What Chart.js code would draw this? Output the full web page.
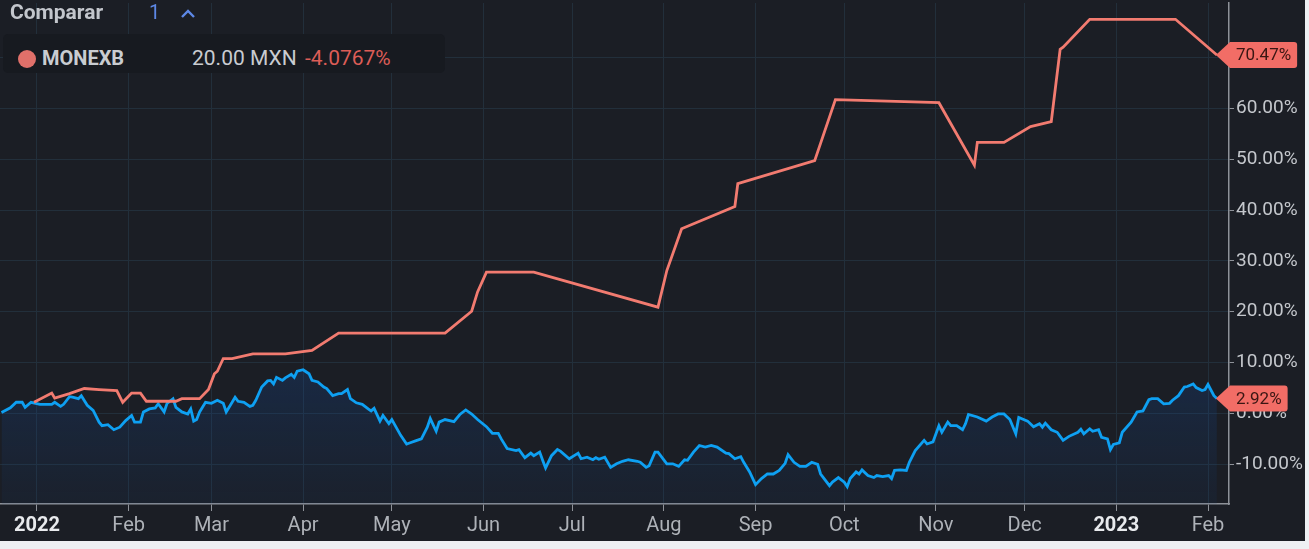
<!DOCTYPE html>
<html>
<head>
<meta charset="utf-8">
<script src="https://cdn.jsdelivr.net/npm/chart.js@4/dist/chart.umd.min.js"></script>
<style>
  html, body { margin: 0; padding: 0; background: #eef0f3; }
  #wrap { position: absolute; left: 0; top: 0; width: 1305px; height: 541px; background: #1b1e25; overflow: hidden; }
  #wrap canvas { position: absolute; left: 0; top: 0; }
  .t { position: absolute; font-family: Roboto, sans-serif; white-space: nowrap; line-height: 24px; }
  #row { position: absolute; left: 3px; top: 34px; width: 442px; height: 39px; background: #171a20; border-radius: 5px; }
  #dot { position: absolute; left: 18px; top: 50px; width: 18px; height: 18px; border-radius: 50%; background: #e0706a; }
</style>
</head>
<body>
<div id="wrap">
  <canvas id="chart"></canvas>
  <div class="t" style="left:10px;top:0px;font-size:21px;font-weight:700;color:#c3c6cc;">Comparar</div>
  <div class="t" style="left:149px;top:0px;font-size:20px;color:#5d88e6;">1</div>
  <svg style="position:absolute;left:180px;top:7px" width="16" height="12"><polyline points="2,10 8,4 14,10" fill="none" stroke="#5d88e6" stroke-width="2.4"/></svg>
  <div id="row"></div>
  <div id="dot"></div>
  <div class="t" style="left:42px;top:46px;font-size:20px;font-weight:700;color:#c9ccd1;">MONEXB</div>
  <div class="t" style="left:192px;top:46px;font-size:21px;color:#c9ccd1;">20.00 MXN</div>
  <div class="t" style="left:305px;top:46px;font-size:21px;color:#dc5d57;">-4.0767%</div>
</div>
<script>
// x values are days counted from 2022-01-01
const monthTicks = [0, 31, 59, 90, 120, 151, 181, 212, 243, 273, 304, 334, 365, 396];
const monthLabels = ['2022', 'Feb', 'Mar', 'Apr', 'May', 'Jun', 'Jul', 'Aug', 'Sep', 'Oct', 'Nov', 'Dec', '2023', 'Feb'];
const yTicks = [-10, 0, 10, 20, 30, 40, 50, 60, 70];

// main series (blue area), % change
const benchDays = [
  -12, -9, -7, -5, -4, -2, 1, 5, 6, 8,
  9, 11, 12, 14, 15, 17, 19, 21, 22, 24,
  26, 28, 30, 32, 33, 35, 36, 38, 40, 41,
  43, 44, 46, 47, 49, 51, 52, 53, 54, 55,
  57, 59, 61, 63, 64, 66, 67, 68, 70, 72,
  73, 74, 76, 78, 79, 80, 81, 83, 84, 86,
  87, 88, 90, 92, 93, 95, 97, 98, 100, 102,
  103, 105, 106, 108, 110, 112, 113, 114, 116, 117,
  119, 120, 123, 125, 126, 128, 130, 132, 133, 135,
  136, 138, 141, 143, 145, 147, 149, 152, 154, 156,
  157, 159, 162, 163, 165, 167, 168, 170, 171, 172,
  174, 176, 177, 180, 183, 184, 186, 188, 189, 190,
  192, 194, 196, 198, 200, 203, 204, 206, 207, 209,
  210, 213, 215, 217, 219, 220, 222, 224, 226, 228,
  230, 233, 234, 236, 238, 239, 241, 243, 245, 247,
  249, 251, 253, 254, 256, 258, 260, 262, 264, 265,
  268, 269, 271, 273, 274, 275, 277, 278, 279, 281,
  283, 284, 286, 288, 289, 290, 292, 294, 295, 297,
  300, 301, 303, 305, 306, 308, 309, 311, 313, 314,
  315, 318, 321, 323, 325, 327, 329, 331, 332, 335,
  337, 339, 340, 341, 343, 345, 347, 349, 352, 353,
  354, 356, 357, 359, 360, 362, 363, 364, 366, 367,
  370, 372, 374, 376, 377, 379, 381, 383, 384, 386,
  388, 389, 391, 392, 394, 395, 396, 398, 399
];
const benchValues = [
  0.2, 1.1, 2.2, 2.2, 1.2, 2.2, 1.8, 1.8, 2.2, 1.4,
  1.8, 3.3, 3.2, 2.9, 3.5, 1.6, 0.6, -1.7, -2.4, -2.2,
  -3.2, -2.7, -1.4, -0.4, -1.7, -1.7, 0.3, 0.9, 1.1, 1.9,
  0.3, 2.0, 2.9, 1.2, 0.3, -0.1, 0.9, -1.5, -1.2, 0.3,
  2.2, 2.0, 2.6, 2.0, 0.3, 2.2, 3.2, 2.4, 2.2, 1.4,
  1.6, 2.6, 5.2, 6.4, 6.5, 5.8, 7.1, 6.5, 7.0, 7.7,
  7.1, 8.3, 8.6, 7.8, 6.5, 6.2, 5.2, 4.9, 3.5, 3.9,
  3.9, 4.7, 2.9, 2.1, 1.8, 0.9, 0.5, 1.0, -1.5, -0.4,
  -2.0, -1.2, -4.3, -6.0, -5.8, -5.4, -5.0, -2.7, -1.0, -3.5,
  -1.7, -1.2, -1.6, -0.2, 0.7, -0.1, -1.2, -2.6, -3.9, -3.9,
  -5.0, -6.9, -7.3, -7.1, -8.7, -7.8, -8.3, -7.6, -9.2, -10.7,
  -8.3, -7.1, -7.4, -8.9, -7.8, -8.9, -8.6, -9.1, -8.7, -9.0,
  -8.6, -10.6, -9.9, -9.4, -9.1, -9.4, -9.6, -10.6, -10.3, -7.6,
  -7.6, -9.9, -9.9, -10.4, -9.1, -9.2, -7.6, -6.3, -6.6, -6.3,
  -6.6, -7.8, -7.9, -8.9, -8.5, -9.6, -11.5, -14.0, -12.8, -11.9,
  -11.9, -11.2, -9.8, -8.1, -9.6, -10.4, -10.4, -9.6, -10.0, -11.9,
  -14.2, -13.5, -12.6, -13.5, -14.4, -12.8, -11.5, -11.9, -11.1, -12.2,
  -12.6, -12.2, -12.4, -12.2, -12.8, -11.2, -11.1, -11.2, -9.6, -7.3,
  -5.3, -6.0, -5.6, -2.4, -3.7, -1.7, -2.4, -2.4, -3.2, -2.0,
  -0.2, -0.7, -1.5, -0.7, -0.1, -0.1, -1.2, -4.0, -0.8, -1.5,
  -2.6, -2.0, -2.7, -1.9, -3.2, -3.7, -5.3, -4.5, -3.7, -3.1,
  -4.0, -3.0, -3.5, -3.2, -4.7, -5.0, -7.1, -6.1, -5.8, -3.7,
  -1.7, 0.3, 0.5, 2.7, 2.9, 2.9, 1.9, 2.0, 2.6, 3.5,
  5.2, 5.3, 5.8, 5.1, 4.5, 4.7, 5.7, 3.5, 2.92
];

// MONEXB comparison (salmon line), % change
const monexDays = [
  -1, 5, 6, 11, 16, 21, 27, 29, 32, 35,
  37, 47, 49, 55, 58, 60, 61, 63, 66, 73,
  84, 93, 102, 138, 147, 149, 152, 168, 210, 213,
  218, 236, 237, 263, 270, 305, 317, 318, 327, 336,
  343, 346, 347, 356, 385, 399
];
const monexValues = [
  2.2, 4.0, 3.0, 3.9, 4.9, 4.7, 4.5, 2.2, 4.0, 4.0,
  2.4, 2.4, 2.9, 2.9, 4.7, 7.8, 8.3, 10.8, 10.8, 11.7,
  11.7, 12.4, 15.8, 15.8, 20.1, 23.9, 27.8, 27.8, 20.9, 28.1,
  36.3, 40.7, 45.2, 49.7, 61.7, 61.1, 48.8, 53.3, 53.3, 56.4,
  57.4, 71.6, 72.0, 77.5, 77.5, 70.47
];

function toPoints(days, vals) {
  return days.map((d, i) => ({ x: d, y: vals[i] }));
}

function fillGradient(ctx) {
  const chart = ctx.chart;
  const area = chart.chartArea;
  if (!area) return 'rgba(25,60,110,0.2)';
  const top = chart.scales.y.getPixelForValue(10);
  const g = chart.ctx.createLinearGradient(0, top, 0, area.bottom);
  g.addColorStop(0, 'rgba(20,75,155,0.28)');
  g.addColorStop(1, 'rgba(25,60,110,0.12)');
  return g;
}

// drop the extra room chart.js keeps for half tick labels
function noPad(s) {
  s.paddingTop = 0;
  s.paddingBottom = 0;
  s.paddingLeft = 0;
  s.paddingRight = 0;
}

const gridColor = '#222f3b';
const axisColor = '#8e9299';

const badgePlugin = {
  id: 'badges',
  afterDraw(chart) {
    const ctx = chart.ctx;
    const area = chart.chartArea;
    chart.data.datasets.forEach((ds, i) => {
      const meta = chart.getDatasetMeta(i);
      const pt = meta.data[meta.data.length - 1];
      const last = ds.data[ds.data.length - 1].y;
      const text = last.toFixed(2) + '%';
      ctx.save();
      ctx.font = '17px Roboto';
      const w = ctx.measureText(text).width + 12;
      const left = area.right + 1;
      const h = 26, r = 3;
      const y = pt.y;
      ctx.beginPath();
      ctx.moveTo(pt.x - 1, y);
      ctx.lineTo(left, y - h / 2);
      ctx.lineTo(left + w - r, y - h / 2);
      ctx.quadraticCurveTo(left + w, y - h / 2, left + w, y - h / 2 + r);
      ctx.lineTo(left + w, y + h / 2 - r);
      ctx.quadraticCurveTo(left + w, y + h / 2, left + w - r, y + h / 2);
      ctx.lineTo(left, y + h / 2);
      ctx.closePath();
      ctx.fillStyle = '#f26d66';
      ctx.fill();
      ctx.fillStyle = '#3a1613';
      ctx.textBaseline = 'middle';
      ctx.textAlign = 'left';
      ctx.fillText(text, left + 6, y + 1);
      ctx.restore();
    });
  }
};

new Chart(document.getElementById('chart'), {
  type: 'line',
  data: {
    datasets: [
      {
        label: 'MONEXB',
        data: toPoints(monexDays, monexValues),
        borderColor: '#f27b70',
        borderWidth: 2.8,
        pointRadius: 0,
        fill: false,
        tension: 0
      },
      {
        label: 'Base',
        data: toPoints(benchDays, benchValues),
        borderColor: '#0ea0f2',
        borderWidth: 2.8,
        pointRadius: 0,
        fill: 'start',
        backgroundColor: fillGradient,
        tension: 0
      }
    ]
  },
  options: {
    responsive: true,
    maintainAspectRatio: false,
    animation: false,
    layout: { padding: { top: 3, left: 0, right: 0, bottom: 0 } },
    plugins: { legend: { display: false }, tooltip: { enabled: false } },
    scales: {
      x: {
        type: 'linear',
        min: -12.5,
        max: 403.1,
        afterFit: s => { s.height = 37; noPad(s); },
        afterBuildTicks: s => { s.ticks = monthTicks.map(v => ({ value: v })); },
        grid: { color: gridColor, tickColor: axisColor, tickLength: 7, drawTicks: true },
        border: { color: axisColor, width: 1.5 },
        ticks: {
          autoSkip: false,
          maxRotation: 0,
          padding: 3,
          callback: (v, i) => monthLabels[i],
          color: c => (monthLabels[c.index] || '').match(/^\d/) ? '#e8eaed' : '#aeb2b8',
          font: c => ({ family: 'Roboto', size: 20, weight: (monthLabels[c.index] || '').match(/^\d/) ? 'bold' : 'normal' })
        }
      },
      y: {
        position: 'right',
        min: -17.8,
        max: 80.7,
        afterFit: s => { s.width = 76; noPad(s); },
        afterBuildTicks: s => { s.ticks = yTicks.map(v => ({ value: v })); },
        grid: { color: gridColor, tickColor: axisColor, tickLength: 5, drawTicks: true },
        border: { color: axisColor, width: 1.5 },
        ticks: {
          padding: 2,
          color: '#c4c7cc',
          font: { family: 'Roboto', size: 19 },
          callback: v => v.toFixed(2) + '%'
        }
      }
    }
  },
  plugins: [badgePlugin]
});
</script>
</body>
</html>
